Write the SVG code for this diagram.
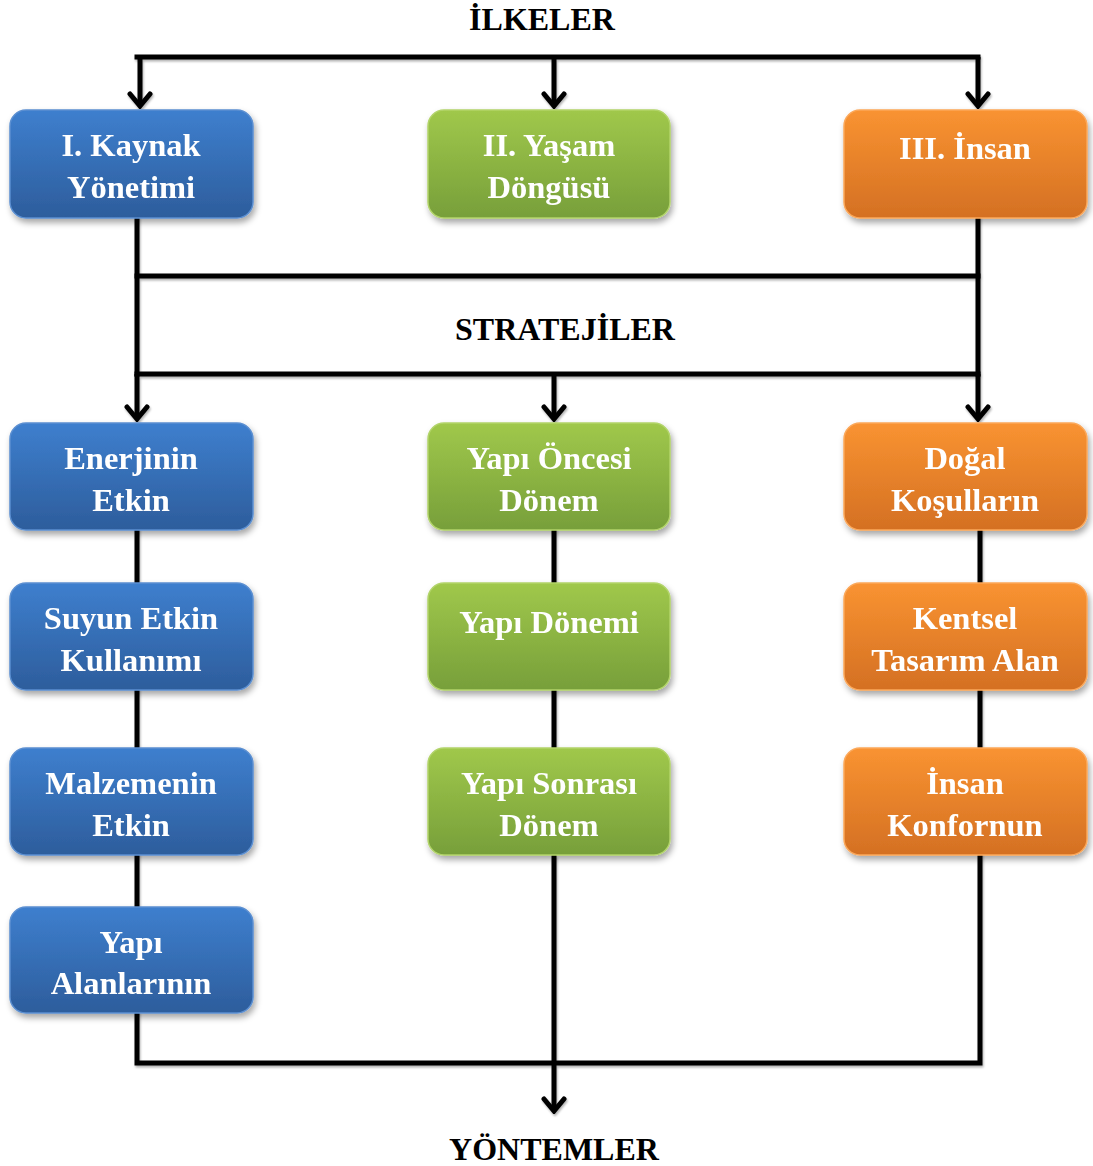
<svg xmlns="http://www.w3.org/2000/svg" width="1093" height="1166" viewBox="0 0 1093 1166">
  <defs>
    <linearGradient id="gBlue" x1="0" y1="0" x2="0" y2="1">
      <stop offset="0" stop-color="#3e7fce"/>
      <stop offset="1" stop-color="#2d5d9c"/>
    </linearGradient>
    <linearGradient id="gGreen" x1="0" y1="0" x2="0" y2="1">
      <stop offset="0" stop-color="#a0c84b"/>
      <stop offset="1" stop-color="#779f3a"/>
    </linearGradient>
    <linearGradient id="gOrange" x1="0" y1="0" x2="0" y2="1">
      <stop offset="0" stop-color="#f99331"/>
      <stop offset="1" stop-color="#d47023"/>
    </linearGradient>
    <filter id="shadow" x="-10%" y="-10%" width="125%" height="135%">
      <feDropShadow dx="2" dy="4" stdDeviation="3" flood-color="#000" flood-opacity="0.35"/>
    </filter>
    <filter id="lineShadow" x="-5%" y="-5%" width="110%" height="110%">
      <feDropShadow dx="1" dy="2" stdDeviation="1" flood-color="#000" flood-opacity="0.3"/>
    </filter>
    <!-- open chevron arrowhead, drawn pointing along +x -->
    <marker id="arrow" viewBox="0 0 18 26" refX="15" refY="13" markerWidth="18" markerHeight="26" markerUnits="userSpaceOnUse" orient="auto">
      <path d="M3,3 L15,13 L3,23" fill="none" stroke="#000" stroke-width="5" stroke-linecap="round" stroke-linejoin="miter"/>
    </marker>
  </defs>
  <style>
    .blue { fill: url(#gBlue); stroke: #5b8fd1; stroke-width: 1.5; }
    .green { fill: url(#gGreen); stroke: #b2d46a; stroke-width: 1.5; }
    .orange { fill: url(#gOrange); stroke: #fba85a; stroke-width: 1.5; }
    .box { filter: url(#shadow); }
    .lbl { font-family: "Liberation Serif", "Times New Roman", serif; font-weight: bold; font-size: 32.5px; fill: #fff; text-anchor: middle; }
    .head { font-family: "Liberation Serif", "Times New Roman", serif; font-weight: bold; font-size: 32px; fill: #000; text-anchor: middle; }
    .wire { fill: none; stroke: #000; stroke-width: 5; stroke-linecap: square; }
    .arr { marker-end: url(#arrow); stroke-linecap: butt; }
  </style>

  <rect width="1093" height="1166" fill="#fff"/>

  <!-- section headings -->
  <text class="head" x="542" y="30">İLKELER</text>
  <text class="head" x="565" y="340">STRATEJİLER</text>
  <text class="head" x="554" y="1160">YÖNTEMLER</text>

  <!-- connectors -->
  <g id="connectors" filter="url(#lineShadow)">
    <!-- principles bus -->
    <path class="wire" d="M137,57 H978"/>
    <path class="wire arr" d="M140,57 V106"/>
    <path class="wire arr" d="M554,57 V106"/>
    <path class="wire arr" d="M978,57 V106"/>
    <!-- strategies frame -->
    <path class="wire" d="M137,218 V374"/>
    <path class="wire" d="M978,218 V374"/>
    <path class="wire" d="M137,276 H978"/>
    <path class="wire" d="M137,374 H978"/>
    <path class="wire arr" d="M137,374 V419"/>
    <path class="wire arr" d="M554,374 V419"/>
    <path class="wire arr" d="M978,374 V419"/>
    <!-- column links -->
    <path class="wire" d="M137,530 V583"/>
    <path class="wire" d="M137,690 V748"/>
    <path class="wire" d="M137,855 V907"/>
    <path class="wire" d="M554,530 V583"/>
    <path class="wire" d="M554,690 V748"/>
    <path class="wire" d="M980,530 V583"/>
    <path class="wire" d="M980,690 V748"/>
    <!-- methods bus -->
    <path class="wire" d="M137,1013 V1063 H980 V855"/>
    <path class="wire arr" d="M554,855 V1111"/>
  </g>

  <!-- principles -->
  <g id="kaynak" class="box">
    <rect class="blue" x="10" y="110" width="243" height="108" rx="16"/>
    <text class="lbl" x="131" y="156">I. Kaynak</text>
    <text class="lbl" x="131" y="198">Yönetimi</text>
  </g>
  <g id="yasam" class="box">
    <rect class="green" x="428" y="110" width="242" height="108" rx="16"/>
    <text class="lbl" x="549" y="156">II. Yaşam</text>
    <text class="lbl" x="549" y="198">Döngüsü</text>
  </g>
  <g id="insan" class="box">
    <rect class="orange" x="844" y="110" width="243" height="108" rx="16"/>
    <text class="lbl" x="965" y="159">III. İnsan</text>
  </g>

  <!-- strategies: resource management -->
  <g id="enerji" class="box">
    <rect class="blue" x="10" y="423" width="243" height="107" rx="16"/>
    <text class="lbl" x="131" y="469">Enerjinin</text>
    <text class="lbl" x="131" y="511">Etkin</text>
  </g>
  <g id="su" class="box">
    <rect class="blue" x="10" y="583" width="243" height="107" rx="16"/>
    <text class="lbl" x="131" y="629">Suyun Etkin</text>
    <text class="lbl" x="131" y="671">Kullanımı</text>
  </g>
  <g id="malzeme" class="box">
    <rect class="blue" x="10" y="748" width="243" height="107" rx="16"/>
    <text class="lbl" x="131" y="794">Malzemenin</text>
    <text class="lbl" x="131" y="836">Etkin</text>
  </g>
  <g id="alan" class="box">
    <rect class="blue" x="10" y="907" width="243" height="106" rx="16"/>
    <text class="lbl" x="131" y="953">Yapı</text>
    <text class="lbl" x="131" y="994">Alanlarının</text>
  </g>

  <!-- strategies: life cycle -->
  <g id="oncesi" class="box">
    <rect class="green" x="428" y="423" width="242" height="107" rx="16"/>
    <text class="lbl" x="549" y="469">Yapı Öncesi</text>
    <text class="lbl" x="549" y="511">Dönem</text>
  </g>
  <g id="donemi" class="box">
    <rect class="green" x="428" y="583" width="242" height="107" rx="16"/>
    <text class="lbl" x="549" y="633">Yapı Dönemi</text>
  </g>
  <g id="sonrasi" class="box">
    <rect class="green" x="428" y="748" width="242" height="107" rx="16"/>
    <text class="lbl" x="549" y="794">Yapı Sonrası</text>
    <text class="lbl" x="549" y="836">Dönem</text>
  </g>

  <!-- strategies: people -->
  <g id="dogal" class="box">
    <rect class="orange" x="844" y="423" width="243" height="107" rx="16"/>
    <text class="lbl" x="965" y="469">Doğal</text>
    <text class="lbl" x="965" y="511">Koşulların</text>
  </g>
  <g id="kentsel" class="box">
    <rect class="orange" x="844" y="583" width="243" height="107" rx="16"/>
    <text class="lbl" x="965" y="629">Kentsel</text>
    <text class="lbl" x="965" y="671">Tasarım Alan</text>
  </g>
  <g id="konfor" class="box">
    <rect class="orange" x="844" y="748" width="243" height="107" rx="16"/>
    <text class="lbl" x="965" y="794">İnsan</text>
    <text class="lbl" x="965" y="836">Konfornun</text>
  </g>
</svg>
